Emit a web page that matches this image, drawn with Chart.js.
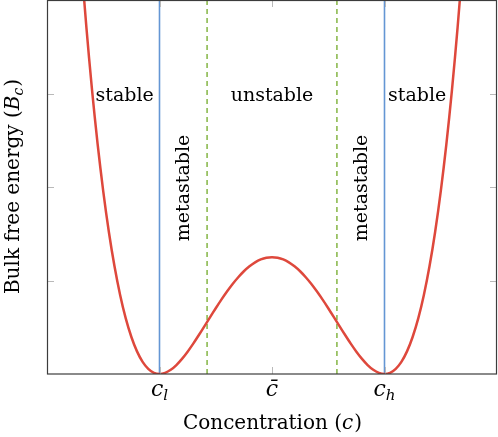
<!DOCTYPE html>
<html>
<head>
<meta charset="utf-8">
<script src="https://cdn.jsdelivr.net/npm/chart.js@4.4.0/dist/chart.umd.min.js"></script>
<style>
  html, body { margin: 0; padding: 0; background: #ffffff; }
  #wrap { width: 498px; height: 437px; position: relative; }
</style>
</head>
<body>
<div id="wrap"><canvas id="c" width="498" height="437"></canvas></div>
<script>
// ---- data ----
const concentration = [-1.7,-1.65,-1.6,-1.55,-1.5,-1.45,-1.4,-1.35,-1.3,-1.25,-1.2,-1.15,-1.1,-1.05,-1.0,
  -0.95,-0.9,-0.85,-0.8,-0.75,-0.7,-0.65,-0.6,-0.55,-0.5,-0.45,-0.4,-0.35,-0.3,-0.25,-0.2,-0.15,-0.1,-0.05,0,
  0.05,0.1,0.15,0.2,0.25,0.3,0.35,0.4,0.45,0.5,0.55,0.6,0.65,0.7,0.75,0.8,0.85,0.9,0.95,1.0,
  1.05,1.1,1.15,1.2,1.25,1.3,1.35,1.4,1.45,1.5,1.55,1.6,1.65,1.7];
const freeEnergy = [4.465,3.709,3.042,2.459,1.953,1.519,1.152,0.846,0.595,0.396,0.242,0.130,0.055,0.013,0,
  0.012,0.045,0.096,0.162,0.239,0.325,0.417,0.512,0.608,0.703,0.795,0.882,0.963,1.035,1.099,1.152,1.194,1.225,1.244,1.25,
  1.244,1.225,1.194,1.152,1.099,1.035,0.963,0.882,0.795,0.703,0.608,0.512,0.417,0.325,0.239,0.162,0.096,0.045,0.012,0,
  0.013,0.055,0.130,0.242,0.396,0.595,0.846,1.152,1.519,1.953,2.459,3.042,3.709,4.465];
const binodal = [-1, 1];          // c_l, c_h (solid blue)
const spinodal = [-0.577, 0.577]; // dashed green
const xTickValues = [-1, 0, 1];
const xTickLabels = ['c', 'c\u0304', 'c'];
const xTickSubs = ['l', '', 'h'];
const yTickValues = [1, 2, 3];
const regionLabels = ['stable', 'metastable', 'unstable', 'metastable', 'stable'];
const regionX = [-1.31, -0.78, 0, 0.80, 1.29];
const regionY = [2.97, 1.99, 2.97, 1.99, 2.97];
const regionVertical = [false, true, false, true, false];
const xTitle = 'Concentration (';
const xTitleVar = 'c';
const yTitle = 'Bulk free energy (';
const yTitleVar = 'B';
const yTitleSub = 'c';
const xRange = [-2, 2];
const yRange = [0, 4];

const FONT = '"DejaVu Serif", serif';
const RED = 'rgb(222,72,60)';
const BLUE = 'rgb(100,150,212)';
const GREEN = 'rgb(140,186,80)';

const vline = (x, color, dash) => ({
  data: [{x: x, y: yRange[0]}, {x: x, y: yRange[1]}],
  borderColor: color, borderWidth: 1.6, borderDash: dash, pointRadius: 0, showLine: true, order: 2
});

const datasets = [
  {
    data: concentration.map((c, i) => ({x: c, y: freeEnergy[i]})),
    borderColor: RED, borderWidth: 2.5, pointRadius: 0, showLine: true,
    tension: 0.3, order: 1
  },
  ...binodal.map(x => vline(x, BLUE, [])),
  ...spinodal.map(x => vline(x, GREEN, [5, 4]))
];

const decor = {
  id: 'decor',
  afterDatasetsDraw(chart) {
    const ctx = chart.ctx;
    const xs = chart.scales.x, ys = chart.scales.y;
    const a = chart.chartArea;
    ctx.save();
    // inner ticks
    ctx.strokeStyle = 'rgb(185,185,185)';
    ctx.lineWidth = 1;
    ctx.beginPath();
    xTickValues.forEach(v => {
      const px = Math.round(xs.getPixelForValue(v)) + 0.5;
      ctx.moveTo(px, a.bottom); ctx.lineTo(px, a.bottom - 7);
      ctx.moveTo(px, a.top); ctx.lineTo(px, a.top + 7);
    });
    yTickValues.forEach(v => {
      const py = Math.round(ys.getPixelForValue(v)) + 0.5;
      ctx.moveTo(a.left, py); ctx.lineTo(a.left + 7, py);
      ctx.moveTo(a.right, py); ctx.lineTo(a.right - 7, py);
    });
    ctx.stroke();
    // frame
    ctx.strokeStyle = 'rgb(60,60,60)';
    ctx.lineWidth = 1.2;
    ctx.strokeRect(a.left + 0.5, a.top + 0.5, a.right - a.left - 1, a.bottom - a.top - 0.5);

    // region labels
    ctx.fillStyle = '#000';
    ctx.font = '19px ' + FONT;
    regionLabels.forEach((t, i) => {
      const px = xs.getPixelForValue(regionX[i]);
      const py = ys.getPixelForValue(regionY[i]);
      ctx.save();
      ctx.translate(px, py);
      if (regionVertical[i]) ctx.rotate(-Math.PI / 2);
      ctx.textAlign = 'center';
      ctx.textBaseline = 'middle';
      ctx.fillText(t, 0, 0);
      ctx.restore();
    });

    // x tick labels
    xTickValues.forEach((v, i) => {
      const px = xs.getPixelForValue(v);
      ctx.font = 'italic 22px ' + FONT;
      const w1 = ctx.measureText(xTickLabels[i]).width;
      ctx.font = 'italic 15px ' + FONT;
      const w2 = xTickSubs[i] ? ctx.measureText(xTickSubs[i]).width : 0;
      const x0 = px - (w1 + w2) / 2;
      ctx.textAlign = 'left';
      ctx.textBaseline = 'alphabetic';
      ctx.font = 'italic 22px ' + FONT;
      ctx.fillText(xTickLabels[i], x0, a.bottom + 22);
      if (xTickSubs[i]) {
        ctx.font = 'italic 15px ' + FONT;
        ctx.fillText(xTickSubs[i], x0 + w1, a.bottom + 26);
      }
    });

    // x title
    {
      ctx.font = '20px ' + FONT;
      const w1 = ctx.measureText(xTitle).width;
      ctx.font = 'italic 20px ' + FONT;
      const w2 = ctx.measureText(xTitleVar).width;
      ctx.font = '20px ' + FONT;
      const w3 = ctx.measureText(')').width;
      const cx = (a.left + a.right) / 2;
      let x0 = cx - (w1 + w2 + w3) / 2;
      const by = a.bottom + 55;
      ctx.textAlign = 'left';
      ctx.fillText(xTitle, x0, by);
      ctx.font = 'italic 20px ' + FONT;
      ctx.fillText(xTitleVar, x0 + w1, by);
      ctx.font = '20px ' + FONT;
      ctx.fillText(')', x0 + w1 + w2 + 1, by);
    }

    // y title
    {
      ctx.save();
      const cy = (a.top + a.bottom) / 2;
      ctx.translate(19, cy);
      ctx.rotate(-Math.PI / 2);
      ctx.font = '20px ' + FONT;
      const w1 = ctx.measureText(yTitle).width;
      ctx.font = 'italic 20px ' + FONT;
      const w2 = ctx.measureText(yTitleVar).width;
      ctx.font = 'italic 14px ' + FONT;
      const w3 = ctx.measureText(yTitleSub).width;
      ctx.font = '20px ' + FONT;
      const w4 = ctx.measureText(')').width;
      let x0 = -(w1 + w2 + w3 + w4) / 2;
      ctx.textAlign = 'left';
      ctx.fillText(yTitle, x0, 0);
      ctx.font = 'italic 20px ' + FONT;
      ctx.fillText(yTitleVar, x0 + w1, 0);
      ctx.font = 'italic 14px ' + FONT;
      ctx.fillText(yTitleSub, x0 + w1 + w2, 4);
      ctx.font = '20px ' + FONT;
      ctx.fillText(')', x0 + w1 + w2 + w3 + 1, 0);
      ctx.restore();
    }
    ctx.restore();
  }
};

new Chart(document.getElementById('c'), {
  type: 'scatter',
  data: { datasets },
  options: {
    responsive: false,
    animation: false,
    layout: { padding: { left: 47, top: 0, right: 1, bottom: 63 } },
    plugins: { legend: { display: false }, tooltip: { enabled: false } },
    scales: {
      x: { type: 'linear', min: xRange[0], max: xRange[1], display: false },
      y: { type: 'linear', min: yRange[0], max: yRange[1], display: false }
    }
  },
  plugins: [decor]
});
</script>
</body>
</html>
